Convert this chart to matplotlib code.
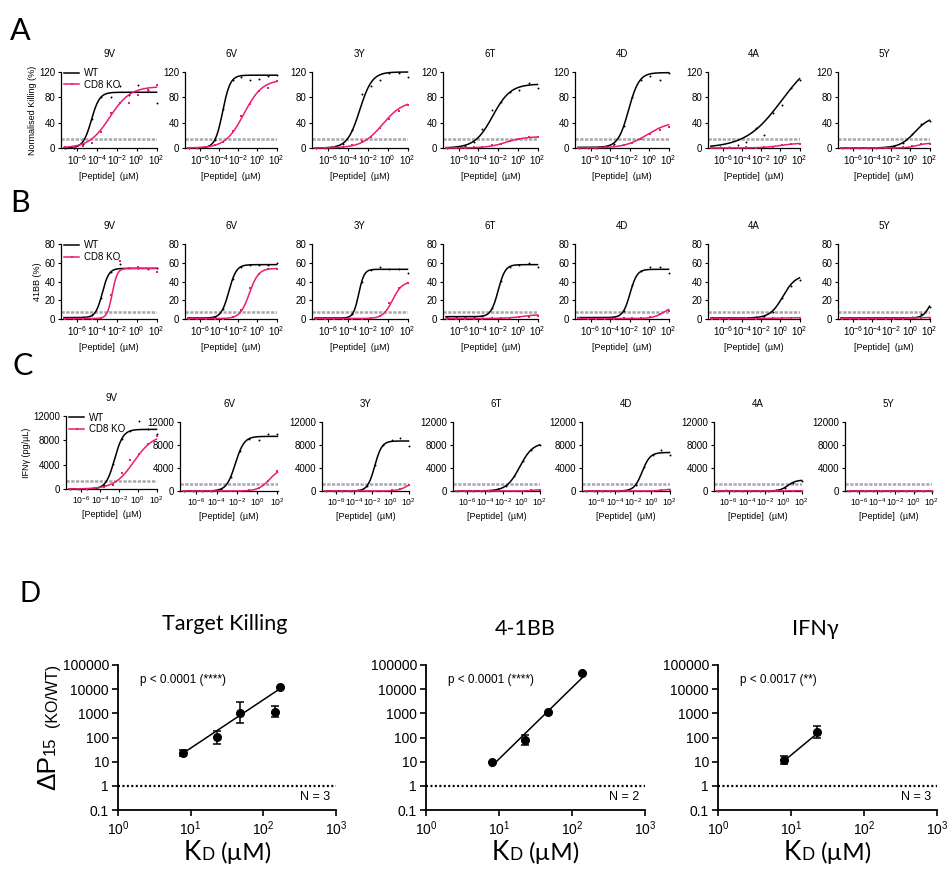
import numpy as np
import matplotlib
matplotlib.use('Agg')
import matplotlib.pyplot as plt
from matplotlib.lines import Line2D
from matplotlib.ticker import FixedLocator, NullLocator, FixedFormatter

plt.rcParams['font.family'] = ['Liberation Sans', 'DejaVu Sans']
plt.rcParams['mathtext.fontset'] = 'custom'
plt.rcParams['mathtext.rm'] = 'Liberation Sans'
plt.rcParams['mathtext.it'] = 'Liberation Sans:italic'
plt.rcParams['mathtext.bf'] = 'Liberation Sans:bold'

# ---------------- data ----------------
peptides = ['9V', '6V', '3Y', '6T', '4D', '4A', '5Y']
log_conc = [-7.2, -6.3, -5.4, -4.5, -3.6, -2.6, -1.7, -0.8, 0.15, 1.1, 2.0]  # log10 [Peptide] (uM)

# fitted dose-response parameters (bottom, top, logEC50, hill)
killing_wt_fit = [(0, 88, -4.55, 1.05), (0, 115, -3.65, 1.09), (0, 120, -2.8, 0.7), (0, 101, -2.55, 0.48),
                  (1, 119, -2.1, 0.8), (0, 150, 0.12, 0.23), (0, 50, 0.45, 0.55)]
killing_ko_fit = [(0, 97, -2.7, 0.42), (0, 108, -1.42, 0.45), (0, 75, -0.5, 0.42), (0, 18, -1.2, 0.45),
                  (0, 42, -0.2, 0.38), (0, 8, 0.0, 0.45), (0, 8, 0.7, 0.8)]
killing_wt_pts = [[0, 0, 6, 46, 81, 80, 98, 83, 99, 92, 71],
                  [0, 0, 1, 12, 62, 107, 112, 108, 109, 113, 116],
                  [0, 0.5, 2, 7, 28, 85, 98, 108, 118, 119, 112],
                  [0, 1, 3, 10, 30, 60, 72, 88, 91, 102, 95],
                  [0, 0, 0.5, 1.5, 7, 35, 80, 108, 114, 108, 118],
                  [1, 1, 2, 4, 10, 32, 20, 55, 68, 95, 108],
                  [0, 0, 0, 0.3, 0.5, 1, 3, 8, 22, 38, 42]]
killing_ko_pts = [[1.5, 1, 3, 8, 26, 55, 71, 71, 84, 92, 99],
                  [0, 0.5, 1, 4, 10, 27, 50, 70, 90, 94, 106],
                  [0, 0.5, 1, 2, 5, 11, 18, 31, 46, 59, 68],
                  [0, 0, 0.5, 1, 2, 4, 7, 11, 15, 17, 17],
                  [0, 0, 0.5, 1, 2.5, 4, 8, 14, 22, 28, 33],
                  [0, 0, 0, 0, 1, 0.5, 1, 2, 4, 6, 7],
                  [0, 0, 0, 0, 0, 0, 0.5, 1, 3, 6, 7]]
killing_threshold = 15

bb_wt_fit = [(1.5, 54, -3.45, 1.3), (1, 58, -3.0, 1.1), (1, 53, -2.9, 1.6), (2.5, 58, -2.0, 1.2),
             (1.5, 53, -1.95, 1.2), (1, 47, 0.25, 0.65), (1, 30, 2.1, 1.1)]
bb_ko_fit = [(0.5, 54, -2.45, 1.7), (0.5, 54, -0.85, 0.9), (0.5, 40, 0.5, 0.9), (0.5, 5, 0.5, 0.5),
             (0.5, 14, 1.5, 0.8), (0.5, 1.5, 0.0, 0.5), (0.5, 2, 1.0, 0.5)]
bb_wt_pts = [[1.5, 1.5, 1.7, 4, 22, 50, 59, 54, 54, 53, 54],
             [1, 1, 1, 2, 11, 43, 56, 58, 58, 58, 60],
             [1, 1, 1, 1.2, 5, 40, 52, 56, 53, 53, 49],
             [2.5, 2.5, 2.5, 2.5, 3.5, 12, 41, 56, 58, 60, 56],
             [1.5, 1.5, 1.5, 1.5, 2, 9, 36, 51, 55, 55, 49],
             [1, 1, 1, 1, 1, 2, 3, 8, 22, 35, 42],
             [1, 1, 1, 1, 1, 1, 1, 1, 2, 5, 13]]
bb_ko_pts = [[0.5, 0.5, 0.5, 0.5, 1, 26, 62, 54, 55, 53, 50],
             [0, 0, 0.3, 0.5, 0.5, 2, 10, 33, 48, 53, 53],
             [0.5, 0.5, 0.5, 0.5, 0.5, 0.5, 1, 3, 17, 33, 38],
             [0.5, 0.5, 0.5, 0.5, 0.5, 1, 1, 1.5, 2, 2.5, 3],
             [1.5, 0.5, 0, 0.5, 0.5, 1, 1, 1.5, 2, 5, 9],
             [0.5, 0.5, 0.5, 1, 1, 0.5, 1, 1, 1, 1, 1],
             [0.5, 0.5, 0.5, 0.5, 0.5, 0.5, 0.5, 0.5, 1, 1, 1.5]]
bb_threshold = 7.5

ifn_wt_fit = [(0, 9800, -2.45, 0.95), (0, 9500, -2.15, 1.0), (0, 8700, -1.75, 1.1), (0, 8400, -0.2, 0.6),
              (0, 6700, -1.0, 1.0), (0, 1900, 0.5, 1.0), (0, 0, 0.0, 1.0)]
ifn_ko_fit = [(0, 9000, -0.4, 0.42), (0, 4000, 1.2, 0.8), (0, 2000, 2.0, 0.8), (0, 300, 1.5, 0.8),
              (0, 400, 1.5, 0.8), (0, 50, 0.0, 1.0), (0, 0, 0.0, 1.0)]
ifn_wt_pts = [[0, 0, 20, 110, 730, 4100, 8200, 9500, 11200, 9800, 9000],
              [0, 0, 0, 30, 330, 2500, 7000, 9100, 8800, 9900, 9900],
              [0, 0, 0, 10, 90, 900, 4600, 8000, 8800, 9200, 7900],
              [0, 0, 0, 20, 75, 300, 950, 2550, 5200, 7200, 8000],
              [0, 0, 0, 0, 20, 170, 1100, 4100, 6250, 7050, 6300],
              [0, 250, 0, 0, 0, 0, 20, 120, 500, 1400, 1800],
              [0, 0, 0, 0, 0, 0, 0, 0, 0, 0, 0]]
ifn_ko_pts = [[0, 0, 0, 100, 400, 600, 2700, 4700, 5750, 7400, 8650],
              [0, 0, 0, 0, 0, 0, 50, 150, 500, 1700, 3400],
              [0, 0, 0, 0, 0, 0, 0, 50, 200, 400, 1000],
              [0, 0, 0, 0, 0, 0, 0, 0, 50, 100, 200],
              [0, 0, 0, 0, 0, 0, 0, 0, 80, 150, 250],
              [0, 0, 0, 0, 0, 0, 0, 0, 0, 0, 0],
              [0, 0, 0, 0, 0, 0, 0, 0, 0, 0, 0]]
ifn_threshold = 1300

# panel D
kd_killing = [7.9, 22.8, 48, 146, 167]
dp_killing = [23.5, 107, 1000, 1170, 12700]
dp_killing_lo = [17, 54, 390, 720, np.nan]
dp_killing_hi = [30, 190, 2900, 2000, np.nan]
fit_killing = (2.0, -0.44)   # slope, intercept in log-log

kd_41bb = [7.9, 22.8, 47, 139]
dp_41bb = [9.8, 76, 1170, 48000]
dp_41bb_lo = [np.nan, 48, np.nan, np.nan]
dp_41bb_hi = [np.nan, 123, np.nan, np.nan]
fit_41bb = (2.95, -1.84)

kd_ifn = [8, 23]
dp_ifn = [11.5, 170]
dp_ifn_lo = [8, 100]
dp_ifn_hi = [16.6, 290]
fit_ifn = (2.5, -1.23)

# ---------------- figure ----------------
W, H, DPI = 948, 875, 100
fig = plt.figure(figsize=(W / DPI, H / DPI), dpi=DPI)
bg = fig.add_axes([0, 0, 1, 1], zorder=-10)
bg.axis('off')
PINK = '#EC1C74'
GREY = '#a8a8a8'


def add_axes_px(left, top, right, bottom):
    return fig.add_axes([left / W, 1 - bottom / H, (right - left) / W, (bottom - top) / H])


def hill(xl, p):
    b, t, ec, h = p
    return b + (t - b) / (1 + 10 ** ((ec - xl) * h))


rowAB_x = [(61, 157), (185, 277), (312, 408), (443, 538), (575, 669), (708, 800), (838, 930)]
rowC_x = [(66, 157), (180, 278), (322, 409), (453, 540), (582, 670), (714, 802), (845, 932)]

rows = [
    dict(xs=rowAB_x, y=(72, 148), wfit=killing_wt_fit, kfit=killing_ko_fit, wpts=killing_wt_pts,
         kpts=killing_ko_pts, thr=killing_threshold, ylim=120, yticks=[0, 40, 80, 120],
         ylabel='Normalised Killing (%)', xts=7),
    dict(xs=rowAB_x, y=(244, 319), wfit=bb_wt_fit, kfit=bb_ko_fit, wpts=bb_wt_pts,
         kpts=bb_ko_pts, thr=bb_threshold, ylim=80, yticks=[0, 20, 40, 60, 80],
         ylabel='41BB (%)', xts=7),
    dict(xs=rowC_x, y=(422, 491), wfit=ifn_wt_fit, kfit=ifn_ko_fit, wpts=ifn_wt_pts,
         kpts=ifn_ko_pts, thr=ifn_threshold, ylim=12000, yticks=[0, 4000, 8000, 12000],
         ylabel='IFNγ (pg/µL)', xts=6.2),
]

conc = 10.0 ** np.array(log_conc)
xl_curve = np.linspace(-7.3, 2.0, 300)

for r, row in enumerate(rows):
    for i, pep in enumerate(peptides):
        l, rr = row['xs'][i]
        t, b = row['y']
        if r == 2 and i == 0:
            t, b = 416, 489
        ax = add_axes_px(l, t, rr, b)
        ax.set_xscale('log')
        ax.set_xlim(10 ** -7.6, 10 ** 2.05)
        ax.set_ylim(0, row['ylim'])
        ax.axhline(row['thr'], color=GREY, lw=1.8, ls=(0, (1.3, 0.6)), zorder=1)
        ax.plot(10 ** xl_curve, hill(xl_curve, row['wfit'][i]), color='black', lw=1.1, zorder=3, clip_on=False)
        ax.plot(conc, row['wpts'][i], 'o', color='black', ms=1.4, mew=0, zorder=4, clip_on=False)
        ax.plot(10 ** xl_curve, hill(xl_curve, row['kfit'][i]), color=PINK, lw=1.1, zorder=5, clip_on=False)
        ax.plot(conc, row['kpts'][i], 's', color=PINK, ms=2.0, mew=0, zorder=6, clip_on=False)

        ax.xaxis.set_major_locator(FixedLocator([1e-6, 1e-4, 1e-2, 1e0, 1e2]))
        ax.xaxis.set_minor_locator(NullLocator())
        ax.set_yticks(row['yticks'])
        for s in ['top', 'right']:
            ax.spines[s].set_visible(False)
        for s in ['left', 'bottom']:
            ax.spines[s].set_linewidth(0.9)
        ax.tick_params(direction='out', length=2.5, width=0.8, labelsize=7, pad=1.5)
        ax.tick_params(axis='x', labelsize=row['xts'])
        ax.set_xlabel('[Peptide]  (µM)', fontsize=6.5, labelpad=3)
        ax.set_title(pep, fontsize=7, pad=11)
        if i == 0:
            ax.set_ylabel(row['ylabel'], fontsize=6.5, labelpad=2)
            handles = [Line2D([], [], color='black', lw=1.1),
                       Line2D([], [], color=PINK, lw=1.1, marker='s', ms=2.0, mew=0)]
            ax.legend(handles, ['WT', 'CD8 KO'], loc='upper left', bbox_to_anchor=(0.02, 1.06),
                      frameon=False, fontsize=7, handlelength=1.6, handletextpad=0.5,
                      labelspacing=0.15, borderpad=0.1, borderaxespad=0)

# panel letters
for letter, x, yb, size in [('A', 10, 40, 22), ('B', 10, 212, 22), ('C', 12, 375, 22), ('D', 20, 602, 20)]:
    bg.text(x / W, 1 - yb / H, letter, transform=fig.transFigure, fontsize=size, family='Lato',
            ha='left', va='baseline')

# ---------------- panel D ----------------
d_axes_x = [(118, 336), (426, 645), (718, 937)]
d_titles = ['Target Killing', '4-1BB', 'IFNγ']
d_title_cx = [225, 525, 815]
d_title_base = [630, 635, 635]
d_p = ['p < 0.0001 (****)', 'p < 0.0001 (****)', 'p < 0.0017 (**)']
d_n = ['N = 3', 'N = 2', 'N = 3']
d_data = [(kd_killing, dp_killing, dp_killing_lo, dp_killing_hi, fit_killing),
          (kd_41bb, dp_41bb, dp_41bb_lo, dp_41bb_hi, fit_41bb),
          (kd_ifn, dp_ifn, dp_ifn_lo, dp_ifn_hi, fit_ifn)]

for j in range(3):
    l, rr = d_axes_x[j]
    ax = add_axes_px(l, 665, rr, 810)
    ax.set_xscale('log')
    ax.set_yscale('log')
    ax.set_xlim(1, 1000)
    ax.set_ylim(0.1, 100000)
    kd, dp, lo, hi, fit = d_data[j]
    kd = np.array(kd, float)
    dp = np.array(dp, float)
    lo = np.array(lo, float)
    hi = np.array(hi, float)
    ax.axhline(1, color='black', lw=1.6, ls=(0, (0.9, 1.1)), zorder=1)
    xf = np.array([kd.min(), kd.max()])
    ax.plot(xf, 10 ** (fit[0] * np.log10(xf) + fit[1]), color='black', lw=1.1, zorder=2)
    m = ~np.isnan(lo)
    if m.any():
        ax.errorbar(kd[m], dp[m], yerr=[dp[m] - lo[m], hi[m] - dp[m]], fmt='none', ecolor='black',
                    elinewidth=1.1, capsize=3, capthick=1.1, zorder=3)
    ax.plot(kd, dp, 'o', color='black', ms=5.5, zorder=4)
    ax.xaxis.set_major_locator(FixedLocator([1, 10, 100, 1000]))
    ax.xaxis.set_minor_locator(NullLocator())
    ax.yaxis.set_major_locator(FixedLocator([0.1, 1, 10, 100, 1000, 10000, 100000]))
    ax.yaxis.set_major_formatter(FixedFormatter(['0.1', '1', '10', '100', '1000', '10000', '100000']))
    ax.yaxis.set_minor_locator(NullLocator())
    for s in ['top', 'right']:
        ax.spines[s].set_visible(False)
    for s in ['left', 'bottom']:
        ax.spines[s].set_linewidth(1.3)
    ax.tick_params(direction='out', length=4.5, width=1.2, labelsize=10, pad=2)
    ax.text(0.1, 0.9, d_p[j], transform=ax.transAxes, fontsize=8.5, ha='left', va='center')
    ax.text(0.975, 0.33, d_n[j], transform=ax.get_yaxis_transform(), fontsize=9, ha='right', va='center')

    bg.text(d_title_cx[j] / W, 1 - d_title_base[j] / H, d_titles[j], transform=fig.transFigure,
            family='Lato', fontsize=15.5, ha='center', va='baseline')
    # K_D (uM) axis label
    cx = (l + rr) / 2
    yb = H - 860
    tK = bg.text((cx - 26) / W, yb / H, 'K', transform=fig.transFigure, family='Lato', fontsize=19,
                 ha='right', va='baseline')
    tD = bg.annotate('D', xy=(1.0, yb), xycoords=(tK, 'figure pixels'), family='Lato', fontsize=12.5,
                     ha='left', va='baseline', annotation_clip=False)
    bg.annotate('(µM)', xy=(1.0, yb), xycoords=(tD, 'figure pixels'), xytext=(4.5, 0),
                textcoords='offset points', family='Lato', fontsize=17.5, ha='left', va='baseline',
                annotation_clip=False)

# y label of panel D
tP = bg.text(55 / W, (H - 790) / H, 'ΔP', transform=fig.transFigure, fontsize=19, rotation=90,
             rotation_mode='anchor', ha='left', va='baseline')
t15 = bg.annotate('15', xy=(55, 1.0), xycoords=('figure pixels', tP), fontsize=12, rotation=90,
                  rotation_mode='anchor', ha='left', va='baseline', annotation_clip=False)
bg.annotate('(KO/WT)', xy=(57, 1.0), xycoords=('figure pixels', t15), xytext=(0, 7),
            textcoords='offset points', fontsize=11.5, rotation=90, rotation_mode='anchor',
            ha='left', va='baseline', annotation_clip=False)

fig.savefig('out.png', dpi=DPI)
